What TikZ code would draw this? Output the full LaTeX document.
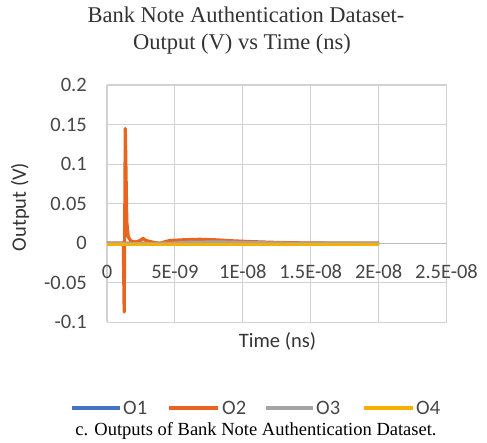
\documentclass[tikz,border=0pt]{standalone}
\usepackage{fontspec}
\setmainfont{Liberation Serif}
\newfontfamily\carl{Carlito}
\definecolor{gridc}{HTML}{D2D2D2}
\definecolor{axisc}{HTML}{BFBFBF}
\definecolor{sOne}{HTML}{4472C4}
\definecolor{sTwo}{HTML}{E9641E}
\definecolor{sThree}{HTML}{A5A5A5}
\definecolor{sFour}{HTML}{F5B000}
\begin{document}
\begin{tikzpicture}[x=1pt,y=-1pt,
  grid/.style={draw=gridc,line width=1.1pt},
  series/.style={line width=3.2pt,line join=round},
  ticklab/.style={font=\carl\fontsize{20.5}{22}\selectfont,text=black!72,inner sep=0pt},
  axtitle/.style={font=\carl\fontsize{20.5}{22}\selectfont,text=black!80,inner sep=0pt},
  legtext/.style={font=\carl\fontsize{20.5}{22}\selectfont,text=black!72,inner sep=0pt,anchor=west},
  legline/.style={line width=3.2pt}]
\useasboundingbox (0,0) rectangle (487,442);

% title
\node[font=\fontsize{22.5}{25}\selectfont,text=black!80,anchor=base] (t1) at (246,22) {Bank Note Authentication Dataset-};
\node[font=\fontsize{22.5}{25}\selectfont,text=black!80,anchor=base] (t2) at (242,49) {Output (V) vs Time (ns)};

% grid: x from 0 to 2.5E-08, y from -0.1 to 0.2
\foreach \k in {0,...,5} {
  \draw[grid] ({107+\k*67.9},85) -- ({107+\k*67.9},322);
}
\foreach \k in {0,1,2,3,5,6} {
  \draw[grid] (107,{85+\k*39.55}) -- (446.5,{85+\k*39.55});
}
\draw[draw=axisc,line width=1.1pt] (107,243.3) -- (446.5,243.3);

% y tick labels
\foreach \v [count=\i from 0] in {0.2,0.15,0.1,0.05,0,-0.05,-0.1} {
  \node[ticklab,anchor=east] (yl\i) at (87,{85+\i*39.55}) {\v};
}
% x tick labels
\foreach \v [count=\i from 0] in {0,5E-09,1E-08,1.5E-08,2E-08,2.5E-08} {
  \node[ticklab] (xl\i) at ({107+\i*67.9},272) {\v};
}

% axis titles
\node[axtitle,rotate=90] (ytitle) at (20,207) {Output (V)};
\node[axtitle] (xtitle) at (277.5,341) {Time (ns)};

% series
\draw[series,sOne] plot coordinates {(107,243.3) (165,243.1) (180,241.8) (200,241.3) (230,241.7) (260,242.6) (300,243.1) (379,243.3)};
\draw[series,sTwo] plot coordinates {(107,243.3) (123.3,243.3) (124.2,312) (125.3,128.5) (126.8,222) (128.3,237) (131,241) (136,242) (140,240.5) (143,238.5) (146,240.5) (152,242) (160,243.5) (164,242) (170,240.5) (185,239.7) (200,239.3) (215,239.8) (230,240.7) (250,241.6) (275,242.4) (300,242.9) (340,243.2) (379,243.3)};
\draw[series,sThree] plot coordinates {(107,243.5) (170,243.3) (190,242.2) (220,242) (250,242.6) (290,243.2) (379,243.4)};
\draw[series,sFour] (107,244.2) -- (379,244.2);

% legend
\draw[legline,sOne] (72,408) -- (120,408);
\node[legtext] (lg1) at (123,408) {O1};
\draw[legline,sTwo] (169,408) -- (218,408);
\node[legtext] (lg2) at (222,408) {O2};
\draw[legline,sThree] (266,408) -- (313,408);
\node[legtext] (lg3) at (316,408) {O3};
\draw[legline,sFour] (364,408) -- (413,408);
\node[legtext] (lg4) at (416,408) {O4};

% caption
\node[font=\fontsize{18.5}{21}\selectfont,anchor=base] (cap) at (256,435) {c. Outputs of Bank Note Authentication Dataset.};
\end{tikzpicture}
\end{document}
